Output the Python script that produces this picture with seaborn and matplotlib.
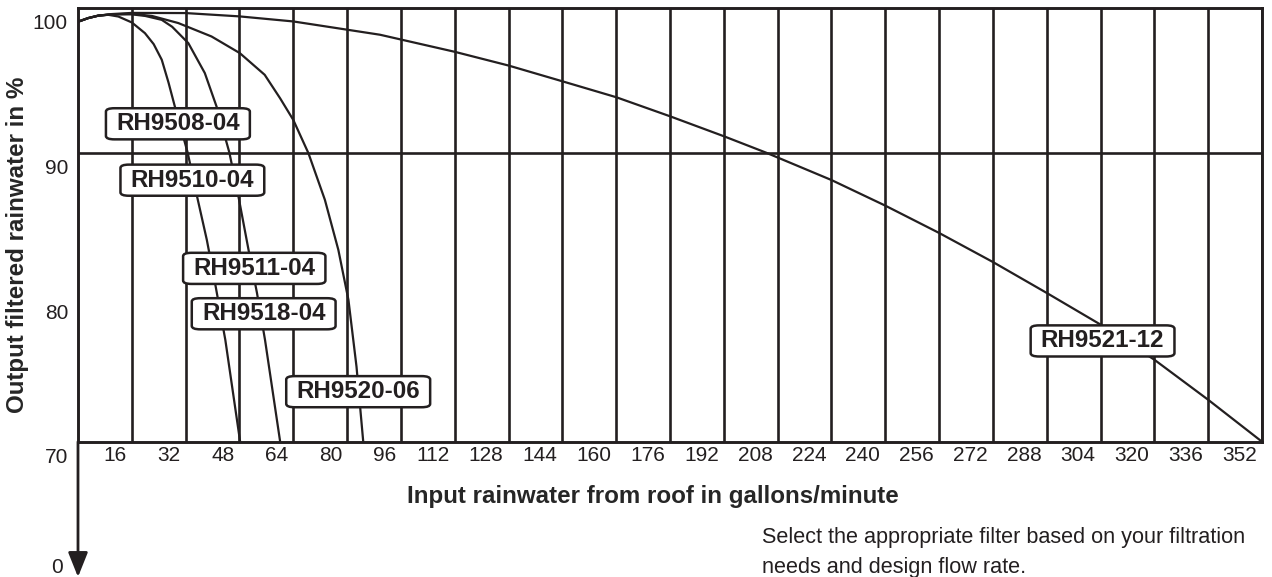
import matplotlib
matplotlib.use("Agg")
import matplotlib.pyplot as plt
import matplotlib.transforms as mtransforms
import seaborn as sns

INK = "#231f20"

# Flow (gallons/minute) against output filtered rainwater (%).
# The 08/10 and 11/18 filters share a curve in the original.
flow_9508 = [0, 3, 6, 9, 12, 16, 19.9, 22.5, 24.9, 26.9, 28.8, 32.6, 35.4, 38.3, 40.8, 43.8, 48.2]
out_9508 = [99.05, 99.3, 99.47, 99.53, 99.41, 99.0, 98.26, 97.5, 96.42, 94.85, 93.18, 90.0, 86.96,
            83.96, 80.9, 77.04, 70.0]

flow_9511 = [0, 3, 6, 10, 16, 20, 24.9, 28, 32.8, 37.7, 41.2, 45.0, 47.7, 50.7, 53.2, 55.6, 60.1]
out_9511 = [99.05, 99.3, 99.47, 99.56, 99.56, 99.45, 99.18, 98.7, 97.57, 95.5, 93.18, 90.0,
            86.96, 83.27, 80.3, 77.04, 70.0]

flow_9520 = [0, 3, 6, 10, 16, 22, 29.8, 39.7, 48.1, 55.5, 60.1, 64, 68.5, 73.4, 77.4, 80.4, 82.8, 84.8]
out_9520 = [99.05, 99.3, 99.47, 99.56, 99.6, 99.45, 98.96, 98.03, 96.88, 95.38, 93.75, 92.26, 89.96,
            86.73, 83.27, 79.81, 75.19, 70.0]

flow_9521 = [0, 3, 6, 10, 16, 32, 48, 64, 89.8, 96, 112, 128, 144, 160, 176, 192, 204.5, 224, 240,
             256, 272, 288, 304, 320, 336, 352]
out_9521 = [99.05, 99.3, 99.47, 99.58, 99.66, 99.65, 99.42, 99.07, 98.15, 97.82, 96.97, 96.02, 94.93,
            93.83, 92.51, 91.13, 90.0, 88.1, 86.33, 84.44, 82.43, 80.29, 78.1, 75.67, 72.9, 70.0]

flow_ticks = [16, 32, 48, 64, 80, 96, 112, 128, 144, 160, 176, 192, 208, 224, 240, 256, 272,
              288, 304, 320, 336, 352]
pct_ticks = [70, 80, 90, 100]

model_names = ["RH9508-04", "RH9510-04", "RH9511-04", "RH9518-04", "RH9520-06", "RH9521-12"]
model_flow = [29.7, 34.0, 52.4, 55.2, 83.3, 304.6]
model_pct = [91.99, 88.09, 81.99, 78.85, 73.46, 76.97]

sns.set_theme(style="white")
plt.rcParams["font.family"] = ["Liberation Sans", "DejaVu Sans"]
plt.rcParams["text.color"] = INK

fig = plt.figure(figsize=(12.72, 5.77), dpi=100)
ax = fig.add_axes([78 / 1272, 1 - 441.7 / 577, 1184 / 1272, 433.7 / 577])

curves = [(flow_9508, out_9508), (flow_9511, out_9511), (flow_9520, out_9520), (flow_9521, out_9521)]
for xs, ys in curves:
    sns.lineplot(x=xs, y=ys, ax=ax, color=INK, lw=1.6, estimator=None, zorder=3)

ax.set_xlim(0, 352)
ax.set_ylim(70, 100)

# grid: every x tick, only the 90 % line across
ax.set_xticks(flow_ticks)
ax.set_xticklabels([str(v) for v in flow_ticks], ha="right")
ax.xaxis.grid(True, color=INK, lw=1.9)
ax.yaxis.grid(False)
ax.axhline(90, color=INK, lw=1.9, zorder=1)
ax.set_axisbelow(True)

ax.set_yticks(pct_ticks)
ax.set_yticklabels([str(v) for v in pct_ticks])
ax.tick_params(axis="x", length=0, pad=3, labelsize=15, labelcolor=INK)
ax.tick_params(axis="y", length=0, pad=7.2, labelsize=15, labelcolor=INK)

x_shift = mtransforms.ScaledTranslation(-0.05, 0, fig.dpi_scale_trans)
for lbl in ax.get_xticklabels():
    lbl.set_transform(lbl.get_transform() + x_shift)
y_shift = mtransforms.ScaledTranslation(0, -0.14, fig.dpi_scale_trans)
for lbl in ax.get_yticklabels():
    lbl.set_transform(lbl.get_transform() + y_shift)

for side in ["left", "right", "top", "bottom"]:
    ax.spines[side].set_visible(True)
    ax.spines[side].set_color(INK)
    ax.spines[side].set_linewidth(2.1)

# broken axis running down to zero
ax.annotate("", xy=(0, -0.312), xytext=(0, 0), xycoords="axes fraction",
            arrowprops=dict(arrowstyle="-|>,head_length=1.25,head_width=0.5",
                            color=INK, lw=2.0, shrinkA=0, shrinkB=0),
            annotation_clip=False)
ax.text(-0.0127, -0.289, "0", transform=ax.transAxes, ha="right", va="center", fontsize=15)

ax.set_xlabel("Input rainwater from roof in gallons/minute", fontsize=17.4, fontweight="bold")
ax.xaxis.set_label_coords(0.4856, -0.127)
ax.xaxis.label.set_va("center")
ax.set_ylabel("Output filtered rainwater in %", fontsize=17.4, fontweight="bold")
ax.yaxis.set_label_coords(-0.0507, 0.455)
ax.yaxis.label.set_va("center")

for name, fx, fy in zip(model_names, model_flow, model_pct):
    ax.text(fx, fy, name, ha="center", va="center", fontsize=17.4, fontweight="bold", zorder=5,
            bbox=dict(boxstyle="round,pad=0.42,rounding_size=0.35", fc="white", ec=INK,
                      lw=1.8, mutation_aspect=0.4))

fig.text(762 / 1272, 1 - 527 / 577,
         "Select the appropriate filter based on your filtration\nneeds and design flow rate.",
         ha="left", va="top", fontsize=15.6, linespacing=1.55)

fig.savefig("out.png", dpi=100)
